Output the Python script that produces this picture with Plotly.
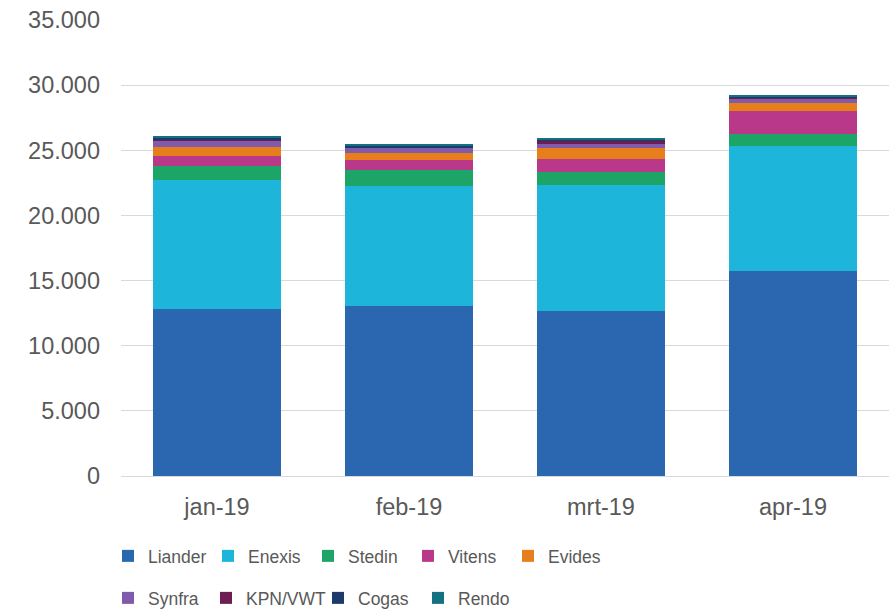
import plotly.graph_objects as go

months = ["jan-19", "feb-19", "mrt-19", "apr-19"]
liander = [12800, 13050, 12660, 15730]
enexis = [9900, 9210, 9650, 9570]
stedin = [1100, 1205, 1000, 945]
vitens = [745, 814, 1045, 1790]
evides = [690, 514, 800, 614]
synfra = [540, 407, 330, 360]
kpn_vwt = [60, 50, 250, 40]
cogas = [150, 130, 110, 100]
rendo = [110, 100, 75, 70]

series = [
    ("Liander", liander, "#2B67B1", "legend"),
    ("Enexis", enexis, "#1DB5D9", "legend"),
    ("Stedin", stedin, "#1DA567", "legend"),
    ("Vitens", vitens, "#BA388A", "legend"),
    ("Evides", evides, "#E67F1B", "legend"),
    ("Synfra", synfra, "#805BAB", "legend2"),
    ("KPN/VWT", kpn_vwt, "#6D1D50", "legend4"),
    ("Cogas", cogas, "#1C3B6C", "legend3"),
    ("Rendo", rendo, "#147181", "legend3"),
]

fig = go.Figure()
for name, vals, color, lg in series:
    fig.add_trace(go.Bar(
        x=months, y=vals, name=name, legend=lg,
        marker=dict(color=color, line=dict(width=0)),
    ))

font_family = "Liberation Sans, Arial, sans-serif"
txt = "#595959"
legend_base = dict(
    orientation="h", xref="container", yref="container",
    xanchor="left", yanchor="middle",
    font=dict(family=font_family, size=17.5, color=txt),
    bgcolor="rgba(0,0,0,0)", borderwidth=0, traceorder="normal",
)
legend_common = dict(entrywidth=55, entrywidthmode="pixels", **legend_base)

fig.update_layout(
    width=895, height=610,
    barmode="stack", bargap=1/3,
    separators=",.",
    paper_bgcolor="white", plot_bgcolor="white",
    margin=dict(l=121, r=6, t=20, b=134),
    font=dict(family=font_family, color=txt),
    legend=dict(x=108/895, y=1 - 556/610, **legend_common),
    legend2=dict(x=108/895, y=1 - 598/610, **legend_base),
    legend4=dict(x=206/895, y=1 - 598/610, **legend_base),
    legend3=dict(x=318/895, y=1 - 598/610, **legend_common),
    xaxis=dict(
        showgrid=False, showline=True, linecolor="#d9d9d9", linewidth=1,
        ticks="", tickfont=dict(size=23.5, color=txt, family=font_family),
        ticklabelstandoff=10,
    ),
    yaxis=dict(
        range=[0, 35000], dtick=5000, tickformat=",d",
        showgrid=True, gridcolor="#d9d9d9", gridwidth=1,
        zeroline=False, showline=False, ticks="",
        tickfont=dict(size=23.5, color=txt, family=font_family),
        ticklabelstandoff=20,
    ),
)

fig.write_html("out.html", config={"displayModeBar": False},
               post_script="document.body.style.margin='0';")
